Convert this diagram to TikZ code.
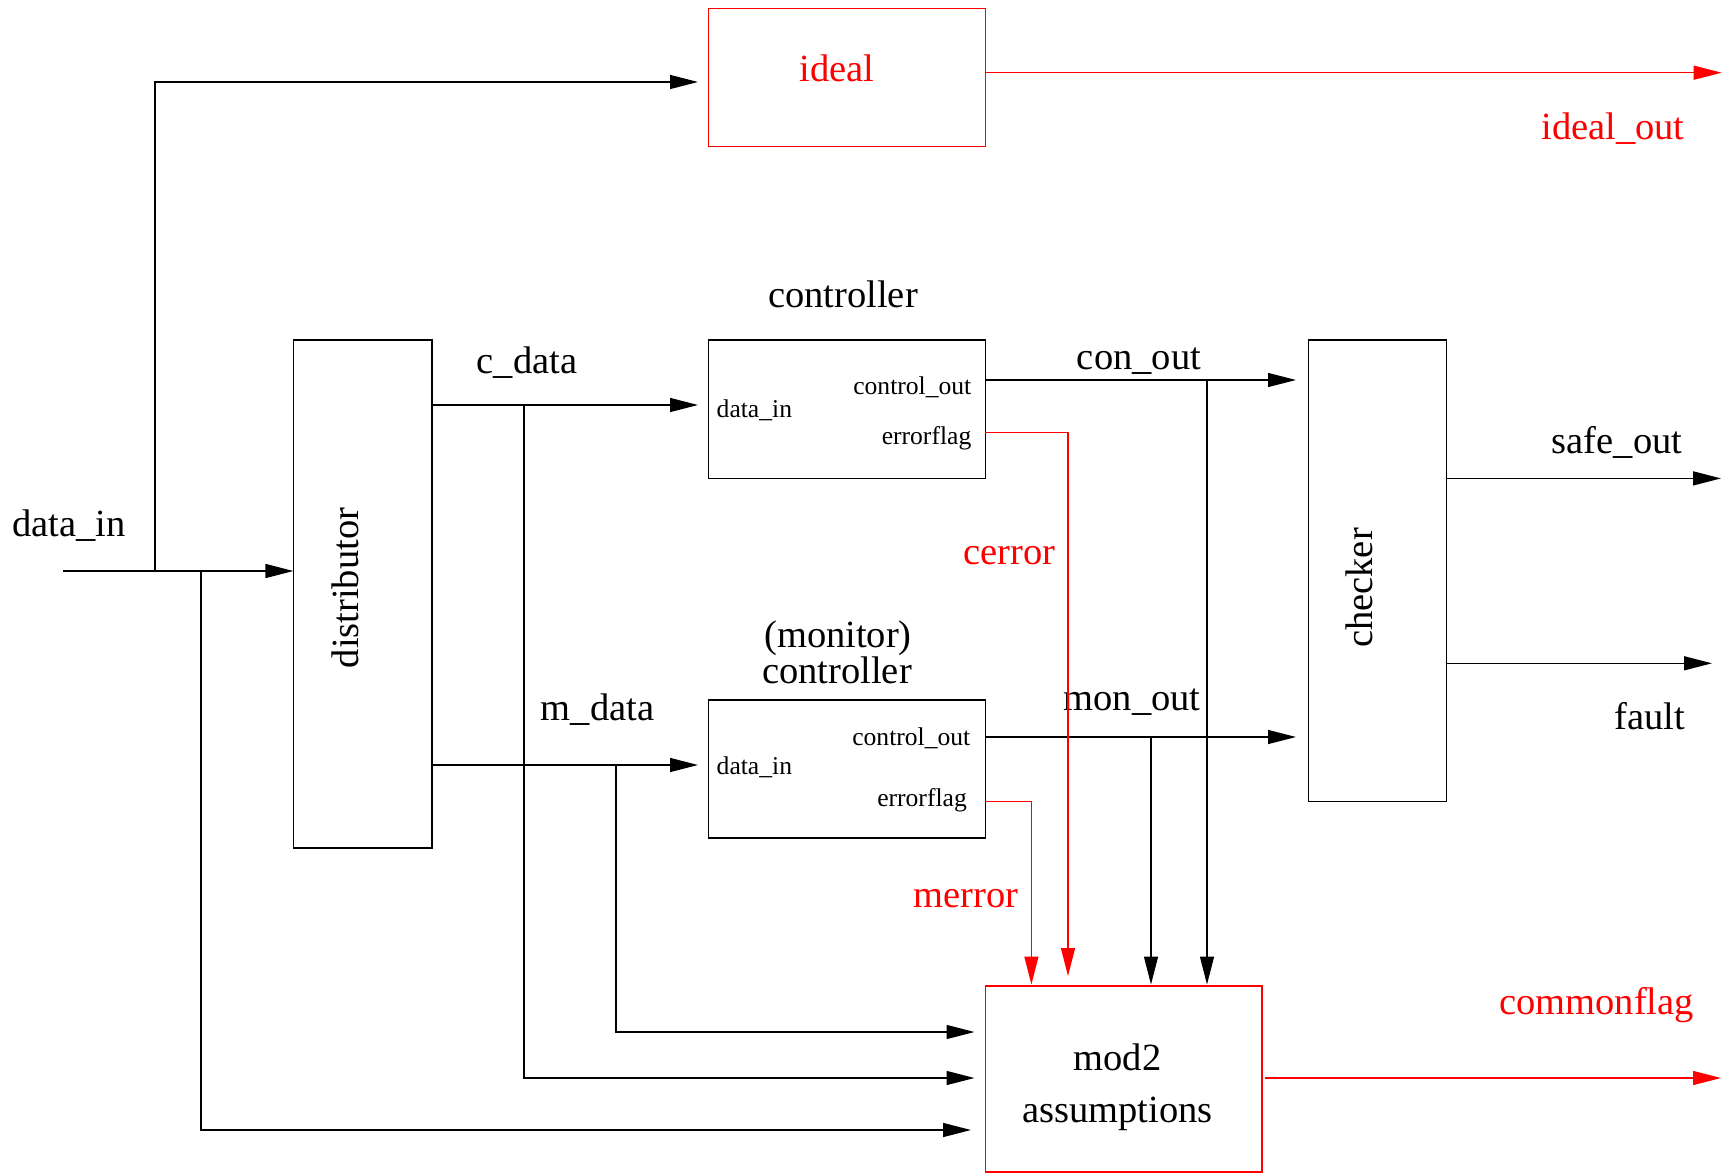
\documentclass[tikz,border=0pt]{standalone}
\usepackage{fontspec}
\setmainfont{Liberation Serif}
\usetikzlibrary{arrows.meta}
\definecolor{sigred}{RGB}{255,0,0}
\begin{document}
\begin{tikzpicture}[x=1pt,y=-1pt,line width=1.4pt,
  box/.style={draw,inner sep=0pt},
  lbl/.style={anchor=base,inner sep=0pt,yshift=-2pt,font=\fontsize{38.5}{46}\selectfont},
  small/.style={inner sep=0pt,yshift=-1pt,font=\fontsize{25.6}{30}\selectfont},
  rot/.style={inner sep=0pt,rotate=90,font=\fontsize{38.5}{46}\selectfont},
  arr/.style={-{Triangle[length=28pt,width=14pt]}},
  redarr/.style={arr,color=sigred}]
\fill[white] (0,0) rectangle (1727,1174);
\useasboundingbox (0,0) rectangle (1727,1174);

% boxes
\node[box,draw=sigred,minimum width=277pt,minimum height=138.2pt] (ideal) at (847,77.5) {};
\node[box,minimum width=138.4pt,minimum height=507.8pt] (dist) at (362.6,594) {};
\node[box,minimum width=277pt,minimum height=138.4pt] (ctrl) at (847,409.2) {};
\node[box,minimum width=277pt,minimum height=138pt] (mon) at (847,769) {};
\node[box,minimum width=138.2pt,minimum height=461.6pt] (chk) at (1377.6,570.8) {};
\node[box,draw=sigred,minimum width=276.4pt,minimum height=186pt] (mod2) at (1123.8,1079) {};

% box texts
\node[lbl,text=sigred] (tideal) at (837,80) {ideal};
\node[rot] (tdist) at (345,588) {distributor};
\node[rot] (tchk) at (1359,588) {checker};
\node[lbl] (tctrl) at (843,306) {controller};
\node[lbl] (tmon1) at (838,645) {(monitor)};
\node[lbl] (tmon2) at (837,681.5) {controller};
\node[lbl] (tmod2a) at (1117.5,1068) {mod2};
\node[lbl] (tmod2b) at (1117.5,1120) {assumptions};

% port texts
\node[small,anchor=base east] (pc1) at (972,393.3) {control\_out};
\node[small,anchor=base west] (pc2) at (716,416.7) {data\_in};
\node[small,anchor=base east] (pc3) at (972,443) {errorflag};
\node[small,anchor=base east] (pm1) at (971,744.8) {control\_out};
\node[small,anchor=base west] (pm2) at (716,773) {data\_in};
\node[small,anchor=base east] (pm3) at (967.5,805) {errorflag};

% signal labels
\node[lbl] (ldin) at (69,534) {data\_in};
\node[lbl] (lcd) at (527,371) {c\_data};
\node[lbl] (lmd) at (597.6,718) {m\_data};
\node[lbl] (lco) at (1139,368) {con\_out};
\node[lbl] (lmo) at (1132,708.8) {mon\_out};
\node[lbl] (lso) at (1617,451.6) {safe\_out};
\node[lbl] (lfa) at (1650,727) {fault};
\node[lbl,text=sigred] (lio) at (1613,137.8) {ideal\_out};
\node[lbl,text=sigred] (lce) at (1009.5,562) {cerror};
\node[lbl,text=sigred] (lme) at (966,905) {merror};
\node[lbl,text=sigred] (lcf) at (1596.6,1012.6) {commonflag};

% coordinates
\coordinate (din) at (63,571);
\coordinate (dj1) at (155,571);
\coordinate (dj2) at (201,571);
\coordinate (distin) at (293.4,571);
\coordinate (idealin) at (698,82);
\coordinate (m2in3) at (971,1130);
\coordinate (cds) at (431.8,405);
\coordinate (cdj) at (524,405);
\coordinate (ctrlin) at (698,405);
\coordinate (m2in2) at (974.5,1078);
\coordinate (mds) at (431.8,765);
\coordinate (mdj) at (616,765);
\coordinate (monin) at (698,765);
\coordinate (m2in1) at (974.5,1032);
\coordinate (cos) at (985.4,380);
\coordinate (coj) at (1207,380);
\coordinate (chkin1) at (1296,380);
\coordinate (coe) at (1207,984.5);
\coordinate (mos) at (985.4,737);
\coordinate (moj) at (1151,737);
\coordinate (chkin2) at (1296,737);
\coordinate (moe) at (1151,984.5);
\coordinate (ces) at (985.4,432.5);
\coordinate (cee) at (1068,976);
\coordinate (mes) at (985.4,801.6);
\coordinate (mee) at (1031.4,984.5);
\coordinate (ios) at (985.4,72.7);
\coordinate (ioe) at (1721.7,72.7);
\coordinate (sos) at (1446.7,478.4);
\coordinate (soe) at (1721,478.4);
\coordinate (fas) at (1446.7,663.3);
\coordinate (fae) at (1712,663.3);
\coordinate (cfs) at (1265,1078);
\coordinate (cfe) at (1721,1078);

% connectors
\draw[arr] (din) -- (distin);
\draw[arr] (dj1) |- (idealin);
\draw[arr] (dj2) |- (m2in3);
\draw[arr] (cds) -- (ctrlin);
\draw[arr] (cdj) |- (m2in2);
\draw[arr] (mds) -- (monin);
\draw[arr] (mdj) |- (m2in1);
\draw[arr] (cos) -- (chkin1);
\draw[arr] (coj) -- (coe);
\draw[arr] (mos) -- (chkin2);
\draw[arr] (moj) -- (moe);
\draw[redarr] (ces) -| (cee);
\draw[redarr] (mes) -| (mee);
\draw[redarr] (ios) -- (ioe);
\draw[arr] (sos) -- (soe);
\draw[arr] (fas) -- (fae);
\draw[redarr] (cfs) -- (cfe);
\end{tikzpicture}
\end{document}
